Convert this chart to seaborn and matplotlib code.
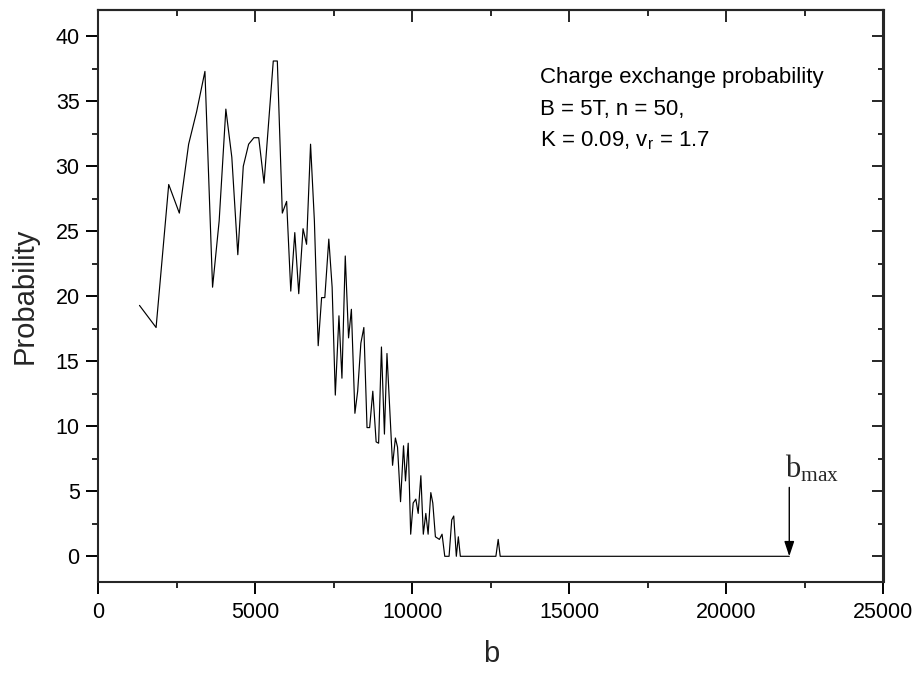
import matplotlib
matplotlib.use("Agg")
import matplotlib.pyplot as plt
from matplotlib.ticker import MultipleLocator
import seaborn as sns
import pandas as pd

b_values = [1311, 1840, 2242, 2580, 2876, 3130, 3395, 3638, 3848, 4061,
            4251, 4442, 4616, 4786, 4955, 5108, 5277, 5571, 5700, 5859,
            5996, 6128, 6256, 6382, 6519, 6631, 6758, 6880, 7001, 7110,
            7212, 7339, 7445, 7546, 7662, 7757, 7863, 7968, 8058, 8170,
            8258, 8360, 8455, 8556, 8639, 8740, 8846, 8925, 9015, 9110,
            9191, 9369, 9459, 9527, 9623, 9718, 9781, 9867, 9946, 10025,
            10110, 10185, 10270, 10348, 10428, 10501, 10587, 10650, 10733, 10860,
            10945, 11031, 11168, 11253, 11317, 11399, 11463, 11527, 12659, 12732,
            12796, 22000]
probability = [19.3, 17.6, 28.6, 26.4, 31.7, 34.2, 37.3, 20.7, 25.8, 34.4,
               30.7, 23.2, 30.0, 31.7, 32.2, 32.2, 28.7, 38.1, 38.1, 26.4,
               27.3, 20.4, 24.9, 20.2, 25.2, 24.0, 31.7, 25.8, 16.2, 19.9,
               19.9, 24.4, 20.7, 12.4, 18.5, 13.7, 23.1, 16.8, 19.0, 11.0,
               12.7, 16.4, 17.6, 9.9, 9.9, 12.7, 8.8, 8.7, 16.1, 9.4,
               15.6, 7.0, 9.1, 8.4, 4.2, 8.5, 5.8, 8.7, 1.7, 4.1,
               4.4, 3.3, 6.2, 1.7, 3.3, 1.7, 4.9, 4.1, 1.5, 1.3,
               1.7, 0, 0, 2.8, 3.1, 0, 1.5, 0, 0, 1.3,
               0, 0]

info_lines = ["Charge exchange probability", "B = 5T, n = 50,",
              r"K = 0.09, v$_\mathregular{r}$ = 1.7"]
b_max = 22000

sns.set_style("ticks")
plt.rcParams["font.family"] = ["Liberation Sans", "DejaVu Sans"]
plt.rcParams["mathtext.default"] = "regular"

df = pd.DataFrame({"b": b_values, "Probability": probability})

fig = plt.figure(figsize=(9.2, 6.74), dpi=100)
ax = fig.add_axes([98.3/920, 1-582.3/674, (883.5-98.3)/920, (582.3-10.3)/674])
sns.lineplot(data=df, x="b", y="Probability", sort=False, color="black",
             linewidth=0.85, ax=ax)

ax.set_xlim(0, 25000)
ax.set_ylim(-2, 42)
ax.xaxis.set_major_locator(MultipleLocator(5000))
ax.xaxis.set_minor_locator(MultipleLocator(2500))
ax.yaxis.set_major_locator(MultipleLocator(5))
ax.yaxis.set_minor_locator(MultipleLocator(2.5))
ax.tick_params(which="major", direction="out", length=8.5, width=1.4,
               labelsize=15.5, colors="black")
ax.tick_params(which="minor", direction="out", length=4.3, width=1.4)
ax.tick_params(axis="x", pad=6)
ax.tick_params(axis="y", pad=5)
for s in ax.spines.values():
    s.set_visible(True)
    s.set_linewidth(1.5)

secx = ax.secondary_xaxis("top")
secx.xaxis.set_major_locator(MultipleLocator(5000))
secx.xaxis.set_minor_locator(MultipleLocator(2500))
secx.tick_params(which="major", direction="in", length=8.5, width=1.4, labeltop=False)
secx.tick_params(which="minor", direction="in", length=4.3, width=1.4)
secy = ax.secondary_yaxis("right")
secy.yaxis.set_major_locator(MultipleLocator(5))
secy.yaxis.set_minor_locator(MultipleLocator(2.5))
secy.tick_params(which="major", direction="in", length=8.5, width=1.4, labelright=False)
secy.tick_params(which="minor", direction="in", length=4.3, width=1.4)
for sec in (secx, secy):
    for s in sec.spines.values():
        s.set_linewidth(1.5)

ax.set_xlabel("b", fontsize=21, labelpad=12)
ax.set_ylabel("Probability", fontsize=21, labelpad=12)

for i, line in enumerate(info_lines):
    ax.text(14054, 36.4 - 2.45 * i, line, fontsize=16, va="baseline",
            ha="left", color="black")

ax.annotate("", xy=(b_max, 0), xytext=(b_max, 5.3),
            arrowprops=dict(arrowstyle="-|>,head_length=0.9,head_width=0.3",
                            color="black", lw=1.0, shrinkA=0, shrinkB=0))
ax.text(21850, 6.1, r"b$_\mathregular{max}$", fontsize=22,
        family=["Liberation Serif", "DejaVu Serif"], va="baseline", ha="left")

fig.savefig("out.png", dpi=100)
